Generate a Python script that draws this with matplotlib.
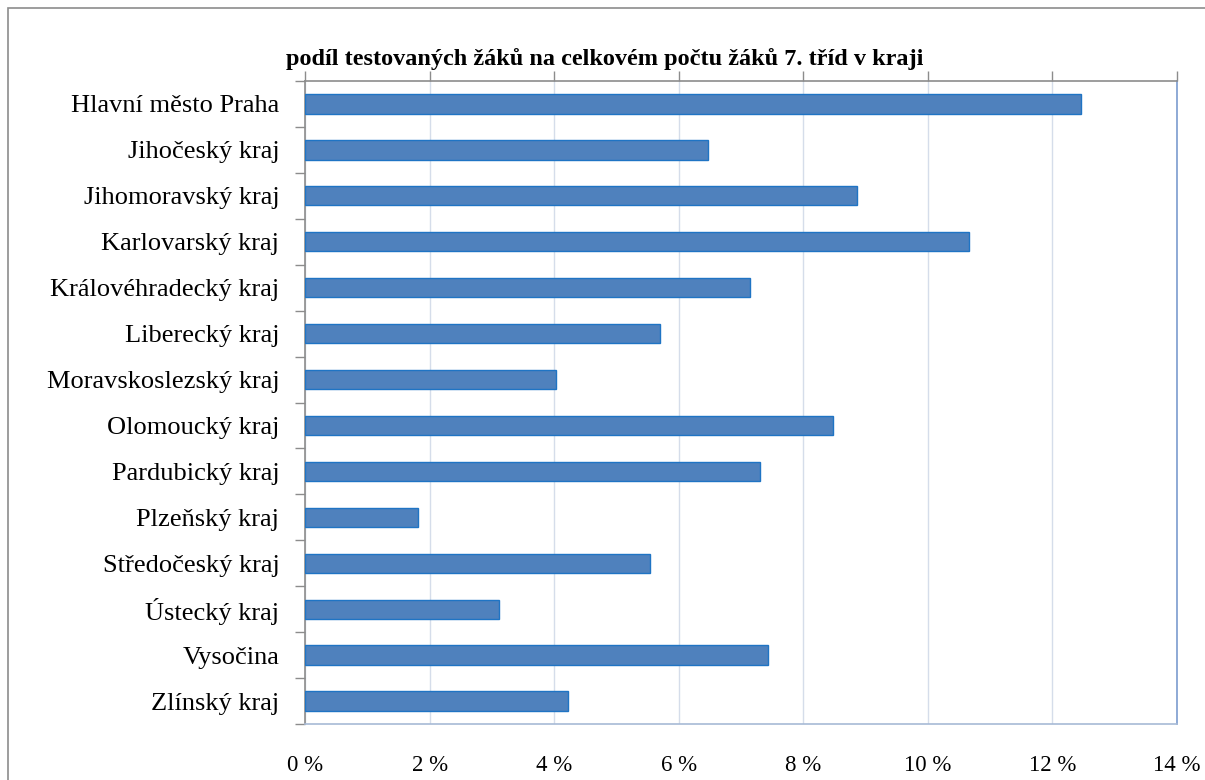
import matplotlib
matplotlib.use("Agg")
import matplotlib.pyplot as plt
import matplotlib.patches as mpatches
import numpy as np

# Podíl testovaných žáků podle krajů (v %)
KRAJE = [
    "Hlavní město Praha",
    "Jihočeský kraj",
    "Jihomoravský kraj",
    "Karlovarský kraj",
    "Královéhradecký kraj",
    "Liberecký kraj",
    "Moravskoslezský kraj",
    "Olomoucký kraj",
    "Pardubický kraj",
    "Plzeňský kraj",
    "Středočeský kraj",
    "Ústecký kraj",
    "Vysočina",
    "Zlínský kraj",
]
PODIL = [12.46, 6.47, 8.86, 10.66, 7.14, 5.70, 4.03, 8.48, 7.30, 1.81, 5.54, 3.11, 7.43, 4.22]

X_TICKS = [0, 2, 4, 6, 8, 10, 12, 14]
X_LABELS = ["0 %", "2 %", "4 %", "6 %", "8 %", "10 %", "12 %", "14 %"]

TITULEK = "podíl testovaných žáků na celkovém počtu žáků 7. tříd v kraji"

plt.rcParams["font.family"] = ["Liberation Serif", "DejaVu Serif"]

fig = plt.figure(figsize=(12.05, 7.80), dpi=100)
fig.patch.set_facecolor("white")

# rámeček kolem celého grafu
fig.patches.append(mpatches.Rectangle((8 / 1205, -0.05), 1.1, 1 - 8 / 780 + 0.05,
                                      transform=fig.transFigure, fill=False,
                                      edgecolor="#8C8C8C", linewidth=1.2))

ax = fig.add_axes([305 / 1205, 1 - 724 / 780, (1177 - 305) / 1205, (724 - 81) / 780])

y = np.arange(len(KRAJE))
ax.barh(y, PODIL, height=0.42, color="#4F81BD", edgecolor="#1F74C4", linewidth=1.0, zorder=3)

ax.set_xlim(0, 14)
ax.set_ylim(len(KRAJE) - 0.5, -0.5)

ax.set_xticks(X_TICKS)
ax.set_xticklabels(X_LABELS, fontsize=16.5)
ax.tick_params(axis="x", top=True, bottom=False, labeltop=False, labelbottom=True,
               direction="out", length=7, width=1.0, color="#8C8C8C", pad=15)

ax.set_yticks(y)
ax.set_yticklabels(KRAJE, fontsize=19)
ax.set_yticks(np.arange(-0.5, len(KRAJE)), minor=True)
ax.tick_params(axis="y", which="major", length=0, pad=18.5)
ax.tick_params(axis="y", which="minor", length=7, width=1.0, color="#8C8C8C", direction="out")

ax.grid(axis="x", color="#D5DDEA", linewidth=1.0, zorder=0)
ax.set_axisbelow(True)

ax.spines["top"].set_color("#8C8C8C")
ax.spines["left"].set_color("#8C8C8C")
ax.spines["bottom"].set_color("#A7BAD6")
ax.spines["right"].set_color("#7C9CCF")
for s in ax.spines.values():
    s.set_linewidth(1.2)

fig.text((281 + 928) / 2 / 1205, 1 - 59 / 780, TITULEK, ha="center", va="center",
         fontsize=17.5, fontweight="bold")

fig.savefig("out.png", dpi=100, facecolor="white")
